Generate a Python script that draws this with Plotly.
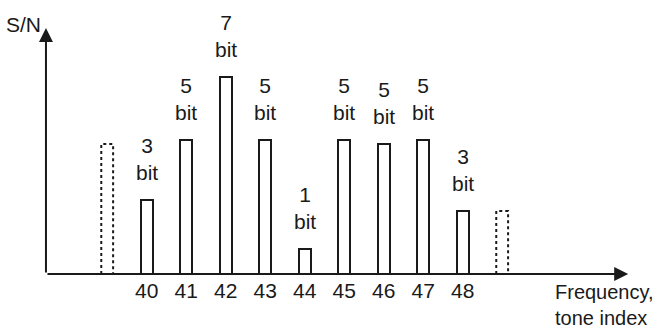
import plotly.graph_objects as go

# active tones and their S/N level (relative units) and bit loading
tones = [40, 41, 42, 43, 44, 45, 46, 47, 48]
snr = [74, 134, 197, 134, 25, 134, 130, 134, 63]
bits = [3, 5, 7, 5, 1, 5, 5, 5, 3]

# unused neighbour tones, drawn dotted
edge_tones = [39, 49]
edge_snr = [130, 63]

FONT = "Liberation Sans Narrow, Arial Narrow, Liberation Sans, Arial"
INK = "#1a1a1a"
bar_w = 0.3
plot_h = 274  # px of the plot area, baseline at its bottom

fig = go.Figure()

fig.add_trace(go.Bar(
    x=tones, y=snr, width=bar_w,
    marker=dict(color="white", line=dict(color=INK, width=2)),
    cliponaxis=False, showlegend=False, hoverinfo="skip"))

for t, h in zip(edge_tones, edge_snr):
    fig.add_trace(go.Scatter(
        x=[t - bar_w / 2, t - bar_w / 2, t + bar_w / 2, t + bar_w / 2],
        y=[0, h, h, 0], mode="lines",
        line=dict(color=INK, width=2, dash="dot"),
        cliponaxis=False, showlegend=False, hoverinfo="skip"))

# bit labels above each bar
for t, h, b in zip(tones, snr, bits):
    fig.add_annotation(x=t, y=h, text=f"{b}<br>bit", showarrow=False,
                       yanchor="bottom", yshift=14,
                       font=dict(family=FONT, size=21, color=INK))

x0 = 37.45
# axes with arrow heads
fig.add_annotation(x=x0, y=246, ax=x0, ay=0, xref="x", yref="y",
                   axref="x", ayref="y", text="", showarrow=True,
                   arrowhead=2, arrowsize=1.4, arrowwidth=2, arrowcolor=INK)
fig.add_annotation(x=52.19, y=0, ax=x0, ay=0, xref="x", yref="y",
                   axref="x", ayref="y", text="", showarrow=True,
                   arrowhead=2, arrowsize=1.4, arrowwidth=2, arrowcolor=INK)

fig.add_annotation(x=23.5 / 657, y=1 - 24 / plot_h, xref="paper", yref="paper",
                   text="S/N", showarrow=False, xanchor="center", yanchor="middle")
fig.add_annotation(x=553 / 657, y=1 - 279 / plot_h, xref="paper", yref="paper",
                   text="Frequency,<br>tone index", showarrow=False,
                   xanchor="left", yanchor="top", align="left",
                   font=dict(size=20))

fig.update_layout(
    width=657, height=328,
    margin=dict(l=0, r=0, t=0, b=328 - plot_h),
    plot_bgcolor="white", paper_bgcolor="white",
    font=dict(family=FONT, size=21, color=INK),
    xaxis=dict(range=[36.286, 52.92], tickvals=tones,
               ticktext=[str(t) for t in tones], showgrid=False,
               zeroline=False, showline=False, ticks="",
               ticklabelstandoff=2),
    yaxis=dict(range=[0, plot_h], visible=False),
    bargap=0,
)

fig.write_html("out.html", config={"displayModeBar": False},
               post_script="document.body.style.margin='0';")
